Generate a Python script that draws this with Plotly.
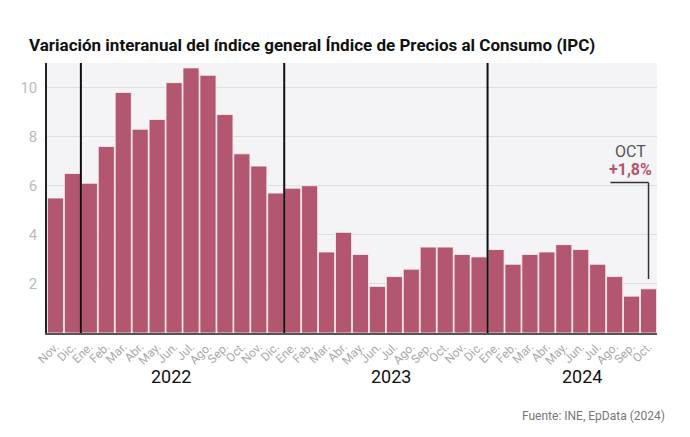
import plotly.graph_objects as go

months = ["Nov.", "Dic.",
          "Ene.", "Feb.", "Mar.", "Abr.", "May.", "Jun.", "Jul.", "Ago.", "Sep.", "Oct.", "Nov.", "Dic.",
          "Ene.", "Feb.", "Mar.", "Abr.", "May.", "Jun.", "Jul.", "Ago.", "Sep.", "Oct.", "Nov.", "Dic.",
          "Ene.", "Feb.", "Mar.", "Abr.", "May.", "Jun.", "Jul.", "Ago.", "Sep.", "Oct."]
ipc = [5.5, 6.5,
       6.1, 7.6, 9.8, 8.3, 8.7, 10.2, 10.8, 10.5, 8.9, 7.3, 6.8, 5.7,
       5.9, 6.0, 3.3, 4.1, 3.2, 1.9, 2.3, 2.6, 3.5, 3.5, 3.2, 3.1,
       3.4, 2.8, 3.2, 3.3, 3.6, 3.4, 2.8, 2.3, 1.5, 1.8]
years = ["2022", "2023", "2024"]
year_pos = [6.8, 19.8, 31.1]
year_breaks = [1.5, 13.5, 25.5]
y_ticks = [2, 4, 6, 8, 10]

BAR = "#b3566f"
x = list(range(len(ipc)))

fig = go.Figure(go.Bar(x=x, y=ipc,
                       marker=dict(color=BAR, line=dict(width=0.8, color="#fbf4f6")),
                       hoverinfo="skip"))

shapes = []
for b in year_breaks:
    shapes.append(dict(type="line", xref="x", yref="y", x0=b, x1=b, y0=0, y1=11,
                       line=dict(color="#111111", width=2)))
# annotation callout line
last = len(ipc) - 1
shapes.append(dict(type="line", xref="x", yref="y", x0=last - 2.25, x1=last, y0=6.13, y1=6.13,
                   line=dict(color="#333333", width=1.5)))
shapes.append(dict(type="line", xref="x", yref="y", x0=last, x1=last, y0=6.13, y1=2.2,
                   line=dict(color="#333333", width=1.5)))

PW, PH = 610.0, 270.0
annotations = [
    dict(text="<b>Variación interanual del índice general Índice de Precios al Consumo (IPC)</b>",
         xref="paper", yref="paper", x=-20/PW, y=1 + 18/PH, xanchor="left", yanchor="middle",
         showarrow=False, font=dict(family="Roboto", size=17, color="#111111")),
    dict(text="Fuente: INE, EpData (2024)", xref="paper", yref="paper",
         x=(667-47)/PW, y=-(416-333)/PH, xanchor="right", yanchor="middle",
         showarrow=False, font=dict(family="Roboto", size=12, color="#777777")),
    dict(text="OCT", xref="x", yref="y", x=last - 1.05, y=7.4, xanchor="center", yanchor="middle",
         showarrow=False, font=dict(family="Roboto", size=16, color="#555555")),
    dict(text="<b>+1,8%</b>", xref="x", yref="y", x=last - 1.05, y=6.65, xanchor="center",
         yanchor="middle", showarrow=False, font=dict(family="Roboto", size=16, color=BAR)),
]
for yr, p in zip(years, year_pos):
    annotations.append(dict(text=yr, xref="x", yref="paper", x=p, y=-(377-333.3)/PH,
                            xanchor="center", yanchor="middle", showarrow=False,
                            font=dict(family="Roboto", size=18, color="#111111")))

fig.update_layout(
    width=690, height=437,
    margin=dict(l=47, r=33, t=63, b=104),
    paper_bgcolor="white", plot_bgcolor="#f4f3f5",
    bargap=0.05, showlegend=False,
    shapes=shapes, annotations=annotations,
    font=dict(family="Roboto"),
    xaxis=dict(tickmode="array", tickvals=x, ticktext=months, tickangle=-45,
               range=[-0.5, len(ipc) - 0.5], showgrid=False, zeroline=False,
               showline=True, linecolor="#555555", linewidth=2, ticks="",
               tickfont=dict(family="Roboto", size=12, color="#aaaaaa")),
    yaxis=dict(range=[0, 11], tickvals=y_ticks, showgrid=True, gridcolor="#dedde0",
               gridwidth=1, zeroline=False, showline=True, linecolor="#222222",
               linewidth=1.5, ticks="", ticklabelstandoff=5,
               tickfont=dict(family="Roboto", size=15, color="#bbbbbb")),
)

fig.write_html("out.html")
